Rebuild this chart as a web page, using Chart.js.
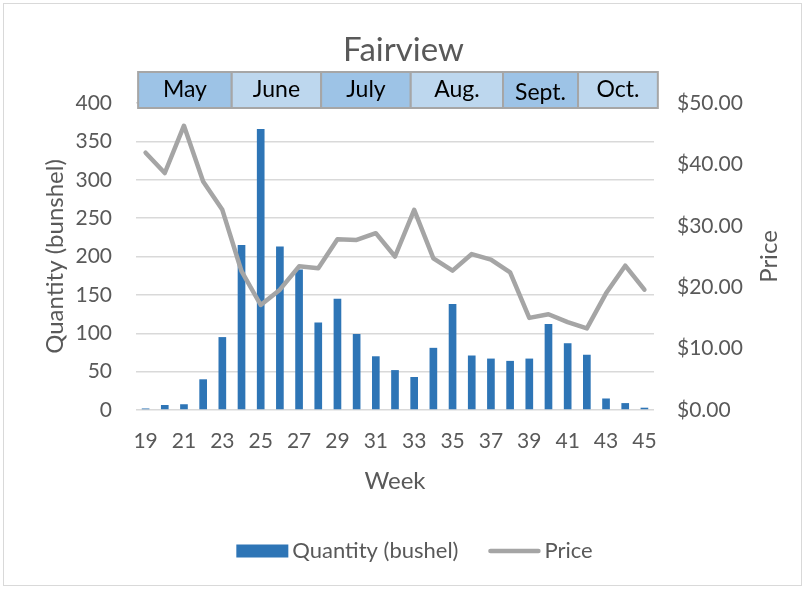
<!DOCTYPE html>
<html>
<head>
<meta charset="utf-8">
<script src="https://cdn.jsdelivr.net/npm/chart.js@4/dist/chart.umd.min.js"></script>
<style>
  html, body { margin: 0; padding: 0; background: #fff; }
  #frame { position: absolute; left: 3px; top: 3px; width: 799px; height: 583px; border: 1px solid #d9d9d9; box-sizing: border-box; }
  #c { position: absolute; left: 0; top: 0; }
</style>
</head>
<body>
<div id="frame"></div>
<canvas id="c" width="807" height="590"></canvas>
<script>
const weeks = [19,20,21,22,23,24,25,26,27,28,29,30,31,32,33,34,35,36,37,38,39,40,41,42,43,44,45];
const quantity = [2,6.5,7.5,40,95,215,366,213,183,114,145,99,70,52,43,81,138,71,67,64,67,112,87,72,15,9,3];
const price = [41.9,38.6,46.3,37.2,32.6,22.6,17.1,19.6,23.4,23.1,27.8,27.7,28.8,25.0,32.6,24.7,22.7,25.4,24.5,22.4,15.0,15.6,14.3,13.3,19.0,23.5,19.6];
const monthLabels = ['May','June','July','Aug.','Sept.','Oct.'];
const monthStartWeek = [18.61, 23.49, 28.15, 32.82, 37.63, 41.54];
const monthEndWeek = 45.7;
const monthColors = ['#9dc3e6','#bdd7ee','#9dc3e6','#bdd7ee','#9dc3e6','#bdd7ee'];
const rightAxisTitle = 'Price';

const FONT = 'Lato, "Open Sans", sans-serif';
const GREY_TEXT = '#595959';

const decorations = {
  id: 'decorations',
  afterDraw(chart) {
    const ctx = chart.ctx;
    const xs = chart.scales.x;
    const area = chart.chartArea;
    const top = area.top - 31;
    const bottom = area.top + 5;
    const first = weeks[0];
    ctx.save();
    // month band
    for (let i = 0; i < monthLabels.length; i++) {
      const endW = i + 1 < monthStartWeek.length ? monthStartWeek[i + 1] : monthEndWeek;
      const x0 = xs.getPixelForValue(monthStartWeek[i] - first);
      const x1 = xs.getPixelForValue(endW - first);
      ctx.fillStyle = monthColors[i];
      ctx.fillRect(x0, top, x1 - x0, bottom - top);
      ctx.strokeStyle = '#a6a6a6';
      ctx.lineWidth = 2;
      ctx.strokeRect(x0, top, x1 - x0, bottom - top);
      ctx.fillStyle = '#000';
      ctx.font = '23px ' + FONT;
      ctx.textAlign = 'center';
      ctx.textBaseline = 'middle';
      ctx.fillText(monthLabels[i], (x0 + x1) / 2, (top + bottom) / 2 + (monthLabels[i] === 'Sept.' ? 3 : 0));
    }
    // legend
    const ds = chart.data.datasets;
    ctx.font = '22px ' + FONT;
    const symW = 52, gapText = 4, gapItem = 30;
    const widths = ds.map(d => symW + gapText + ctx.measureText(d.label).width);
    const total = widths.reduce((a, b) => a + b, 0) + gapItem * (ds.length - 1);
    let lx = 414.5 - total / 2;
    const ly = 551;
    ds.forEach((d, i) => {
      if (d.type === 'bar') {
        ctx.fillStyle = d.backgroundColor;
        ctx.fillRect(lx, ly - 6.5, symW, 13);
      } else {
        ctx.strokeStyle = d.borderColor;
        ctx.lineWidth = d.borderWidth;
        ctx.lineCap = 'round';
        ctx.beginPath();
        ctx.moveTo(lx + 2, ly);
        ctx.lineTo(lx + symW - 2, ly);
        ctx.stroke();
      }
      ctx.fillStyle = GREY_TEXT;
      ctx.textAlign = 'left';
      ctx.textBaseline = 'middle';
      ctx.fillText(d.label, lx + symW + gapText, ly);
      lx += widths[i] + gapItem;
    });
    // right axis title, reading bottom-to-top
    const ys = chart.scales.y1;
    ctx.translate(ys.right - 38, (area.top + area.bottom) / 2);
    ctx.rotate(-Math.PI / 2);
    ctx.fillStyle = GREY_TEXT;
    ctx.font = '24px ' + FONT;
    ctx.textAlign = 'center';
    ctx.textBaseline = 'middle';
    ctx.fillText(rightAxisTitle, 0, 0);
    ctx.restore();
  }
};

new Chart(document.getElementById('c'), {
  data: {
    labels: weeks,
    datasets: [
      {
        type: 'bar',
        label: 'Quantity (bushel)',
        data: quantity,
        backgroundColor: '#2e75b6',
        borderWidth: 0,
        barPercentage: 0.4,
        categoryPercentage: 1,
        yAxisID: 'y',
        order: 1
      },
      {
        type: 'line',
        label: 'Price',
        data: price,
        borderColor: '#a5a5a5',
        backgroundColor: '#a5a5a5',
        borderWidth: 4.5,
        borderCapStyle: 'round',
        borderJoinStyle: 'round',
        pointRadius: 0,
        tension: 0,
        yAxisID: 'y1',
        order: 0
      }
    ]
  },
  options: {
    responsive: false,
    animation: false,
    layout: { padding: { left: 0, right: 0, top: 0, bottom: 76 } },
    plugins: {
      tooltip: { enabled: false },
      legend: { display: false },
      title: {
        display: true,
        text: 'Fairview',
        color: GREY_TEXT,
        font: { family: FONT, size: 33, weight: 'normal' },
        padding: { top: 30.2, bottom: 33.2 }
      }
    },
    scales: {
      x: {
        grid: { display: false, drawTicks: false },
        border: { display: false },
        ticks: {
          color: GREY_TEXT,
          font: { family: FONT, size: 21 },
          autoSkip: false,
          maxRotation: 0,
          padding: 19,
          callback: function (v, i) { return i % 2 === 0 ? String(weeks[i]) : ''; }
        },
        title: {
          display: true,
          text: 'Week',
          color: GREY_TEXT,
          font: { family: FONT, size: 24 },
          padding: { top: 0, bottom: 18.6 }
        },
        afterFit(s) { s.height = 104; }
      },
      y: {
        position: 'left',
        min: 0, max: 400,
        ticks: { stepSize: 50, color: GREY_TEXT, font: { family: FONT, size: 21 }, padding: 24 },
        grid: { color: '#d9d9d9', lineWidth: 1.5, drawTicks: false },
        border: { display: false },
        title: {
          display: true,
          text: 'Quantity (bunshel)',
          color: GREY_TEXT,
          font: { family: FONT, size: 24 },
          padding: { top: 40.6, bottom: 0 }
        },
        afterFit(s) { s.width = 136; }
      },
      y1: {
        position: 'right',
        min: 0, max: 50,
        ticks: {
          stepSize: 10, color: GREY_TEXT, font: { family: FONT, size: 21 }, padding: 23,
          callback: v => '$' + Number(v).toFixed(2)
        },
        grid: { display: false, drawTicks: false },
        border: { display: false },
        title: { display: false },
        afterFit(s) { s.width = 153; }
      }
    }
  },
  plugins: [decorations]
});
</script>
</body>
</html>
